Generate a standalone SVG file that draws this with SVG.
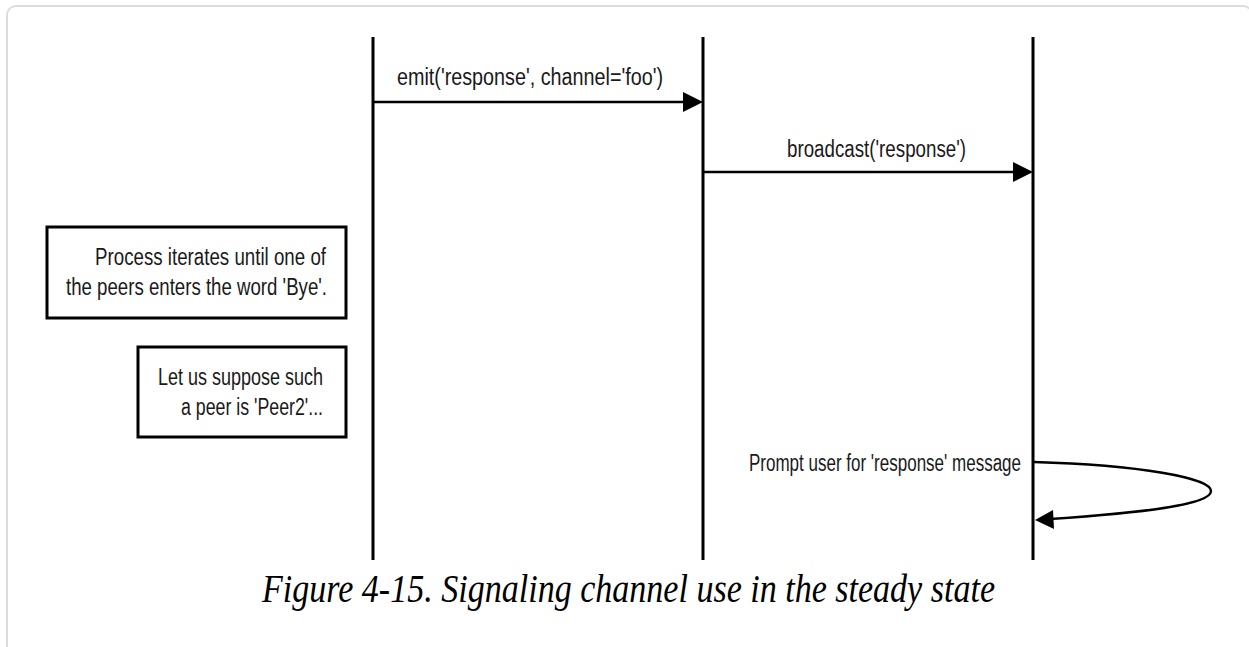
<svg xmlns="http://www.w3.org/2000/svg" width="1249" height="647" viewBox="0 0 1249 647">
<style>
.life{stroke:#000;stroke-width:3;fill:none}
.msg{stroke:#000;stroke-width:2.5;fill:none}
.head{fill:#000}
.box{fill:#fff;stroke:#000;stroke-width:3}
.lbl{font-family:"Liberation Sans",Arial,sans-serif;font-size:23px;fill:#1a1a1a}
.cap{font-family:"Liberation Serif","Times New Roman",serif;font-style:italic;font-size:40px;fill:#000}
</style>
<rect width="1249" height="647" fill="#fff"/>
<rect x="7" y="6" width="1245" height="700" rx="9" fill="none" stroke="#dcdcdc" stroke-width="2"/>
<g id="lifelines">
<line class="life" x1="373" y1="37" x2="373" y2="560"/>
<line class="life" x1="703" y1="37" x2="703" y2="560"/>
<line class="life" x1="1033" y1="37" x2="1033" y2="560"/>
</g>
<g id="connectors">
<line class="msg" x1="373" y1="102" x2="686" y2="102"/>
<polygon class="head" points="703,102 683,92 683,112"/>
<text class="lbl" x="397" y="85" textLength="266" lengthAdjust="spacingAndGlyphs">emit('response', channel='foo')</text>
<line class="msg" x1="703" y1="172" x2="1016" y2="172"/>
<polygon class="head" points="1033,172 1013,162 1013,182"/>
<text class="lbl" x="787" y="157" textLength="179" lengthAdjust="spacingAndGlyphs">broadcast('response')</text>
<path class="msg" d="M1034,462 C1140,465 1211,478 1211,491 C1211,505 1140,513 1050,519"/>
<polygon class="head" points="1035,520 1053,510 1054,529"/>
<text class="lbl" x="1021" y="471" text-anchor="end" textLength="272" lengthAdjust="spacingAndGlyphs">Prompt user for 'response' message</text>
</g>
<g id="note1">
<rect class="box" x="47" y="227" width="299" height="91"/>
<text class="lbl" x="326" y="265" text-anchor="end" textLength="231" lengthAdjust="spacingAndGlyphs">Process iterates until one of</text>
<text class="lbl" x="327" y="295" text-anchor="end" textLength="261" lengthAdjust="spacingAndGlyphs">the peers enters the word 'Bye'.</text>
</g>
<g id="note2">
<rect class="box" x="138" y="347" width="208" height="90"/>
<text class="lbl" x="323" y="385" text-anchor="end" textLength="165" lengthAdjust="spacingAndGlyphs">Let us suppose such</text>
<text class="lbl" x="323" y="415" text-anchor="end" textLength="142" lengthAdjust="spacingAndGlyphs">a peer is 'Peer2'...</text>
</g>
<text class="cap" x="262" y="602" textLength="733" lengthAdjust="spacingAndGlyphs">Figure 4-15. Signaling channel use in the steady state</text>
</svg>
